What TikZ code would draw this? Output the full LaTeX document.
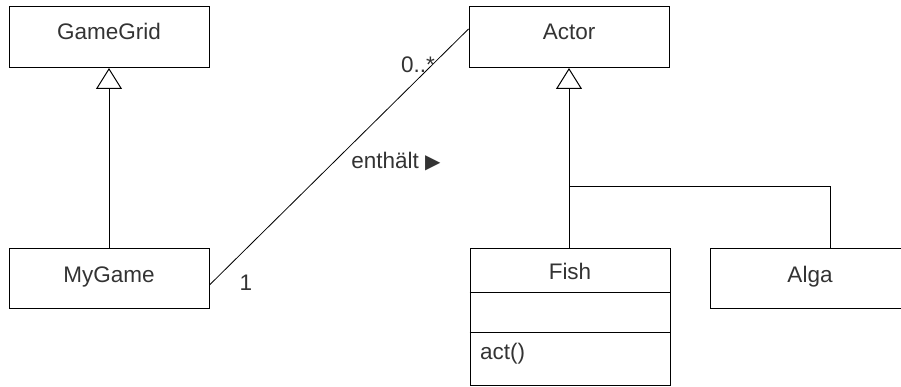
\documentclass[tikz,border=0pt]{standalone}
\usepackage{fontspec}
\setmainfont{Liberation Sans}
\newfontfamily\symfont{DejaVu Sans}
\usetikzlibrary{arrows.meta,positioning}

\begin{document}
\begin{tikzpicture}[x=1pt,y=-1pt,
        cls/.style = {draw, line width=1pt, minimum width=200pt, minimum height=61pt, inner sep=0pt, text height=17pt, text depth=12pt, font=\fontsize{22.5}{26}\selectfont, text=black!80},
        lbl/.style = {inner sep=0pt, font=\fontsize{22.5}{26}\selectfont, text=black!80},
        inh/.style = {line width=1pt, -{Triangle[open, length=21pt, width=26pt, line width=1pt]}},
        ]
        \useasboundingbox (0,0) rectangle (901,387);
        \node[cls](grid) at (109,37) {GameGrid};
        \node[cls, minimum height=60pt, text depth=9pt](game) at (109,278) {MyGame};
        \node[cls](actor) at (569,37) {Actor};
        \node[cls, minimum height=60pt, text depth=9pt](alga) at (810,278) {Alga};
        \node[cls, minimum height=137pt](fish) at (570,316.5) {};
        \node[lbl](fishname) at (570,271) {Fish};
        \node[lbl, anchor=west](act) at (480,354) {act()};
        \draw[line width=1pt] (fish.west |- 0,292) -- (fish.east |- 0,292);
        \draw[line width=1pt] (fish.west |- 0,332) -- (fish.east |- 0,332);
        \coordinate (fork) at (569,187);
        % generalisations
        \draw[inh] (game) -- (grid);
        \draw[inh] (fork) -- (actor);
        \draw[line width=1pt] (fish.north -| fork) -- (fork);
        \draw[line width=1pt] ([xshift=20pt]alga.north) |- (fork);
        % association
        \draw[line width=0.8pt] ([yshift=-7pt]game.east) -- ([yshift=8pt]actor.west);
        \node[lbl](one) at (246,283) {1};
        \node[lbl](many) at (418,65) {0..*};
        \node[lbl](role) at (396,162) {enthält {\symfont\fontsize{20}{24}\selectfont ▶}};
\end{tikzpicture}
\end{document}
